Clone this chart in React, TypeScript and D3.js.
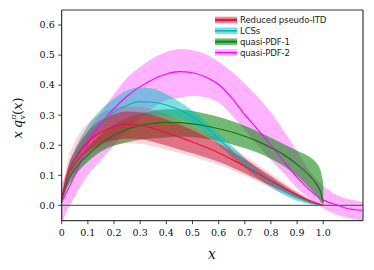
import React from 'react';
import * as d3 from 'd3';

// x grids
const gridA = [0, 0.025, 0.05, 0.1, 0.15, 0.2, 0.25, 0.3, 0.35, 0.4, 0.45, 0.5, 0.55, 0.6, 0.65, 0.7, 0.75, 0.8, 0.85, 0.9, 0.95, 1.0];
const gridGreen = [0, 0.025, 0.05, 0.1, 0.15, 0.2, 0.25, 0.3, 0.35, 0.4, 0.45, 0.5, 0.55, 0.6, 0.65, 0.7, 0.75, 0.8, 0.85, 0.9, 0.95, 0.975, 0.99, 1.0];
const gridMag = [0, 0.025, 0.05, 0.1, 0.15, 0.2, 0.25, 0.3, 0.35, 0.4, 0.45, 0.5, 0.55, 0.6, 0.65, 0.7, 0.75, 0.8, 0.85, 0.9, 0.95, 1.0, 1.05, 1.1, 1.15];

// Reduced pseudo-ITD
const redMid = [0.02, 0.11, 0.155, 0.21, 0.243, 0.262, 0.27, 0.267, 0.256, 0.242, 0.227, 0.211, 0.194, 0.175, 0.153, 0.13, 0.106, 0.081, 0.057, 0.034, 0.014, 0];
const redInHi = [0.03, 0.13, 0.18, 0.245, 0.283, 0.303, 0.312, 0.31, 0.3, 0.286, 0.269, 0.25, 0.229, 0.206, 0.181, 0.154, 0.126, 0.098, 0.069, 0.042, 0.018, 0];
const redInLo = [0.01, 0.09, 0.13, 0.178, 0.204, 0.217, 0.222, 0.221, 0.211, 0.199, 0.186, 0.173, 0.16, 0.145, 0.127, 0.107, 0.086, 0.065, 0.045, 0.026, 0.01, 0];
const redOutHi = [0.04, 0.155, 0.21, 0.272, 0.305, 0.323, 0.33, 0.328, 0.318, 0.302, 0.284, 0.263, 0.241, 0.218, 0.191, 0.164, 0.135, 0.106, 0.076, 0.047, 0.021, 0];
const redOutLo = [0.005, 0.075, 0.115, 0.163, 0.188, 0.201, 0.206, 0.205, 0.197, 0.186, 0.174, 0.162, 0.149, 0.135, 0.118, 0.099, 0.079, 0.058, 0.039, 0.021, 0.007, 0];

// LCSs
const cyanMid = [0.01, 0.11, 0.16, 0.235, 0.28, 0.31, 0.333, 0.345, 0.343, 0.334, 0.318, 0.295, 0.262, 0.222, 0.181, 0.142, 0.107, 0.076, 0.049, 0.026, 0.01, 0];
const cyanHi = [0.02, 0.13, 0.185, 0.265, 0.318, 0.355, 0.382, 0.393, 0.388, 0.37, 0.345, 0.315, 0.28, 0.24, 0.198, 0.158, 0.122, 0.09, 0.062, 0.038, 0.017, 0];
const cyanLo = [0, 0.09, 0.138, 0.207, 0.245, 0.268, 0.285, 0.297, 0.3, 0.297, 0.288, 0.27, 0.24, 0.2, 0.162, 0.124, 0.09, 0.06, 0.035, 0.015, 0.004, 0];

// quasi-PDF-1
const greenMid = [0.02, 0.085, 0.12, 0.168, 0.205, 0.233, 0.253, 0.266, 0.273, 0.276, 0.275, 0.271, 0.264, 0.255, 0.244, 0.23, 0.213, 0.192, 0.168, 0.136, 0.097, 0.07, 0.045, 0.01];
const greenHi = [0.03, 0.11, 0.145, 0.195, 0.237, 0.268, 0.29, 0.305, 0.315, 0.32, 0.319, 0.314, 0.305, 0.294, 0.281, 0.265, 0.246, 0.225, 0.203, 0.182, 0.16, 0.14, 0.115, 0.075];
const greenLo = [0.01, 0.065, 0.098, 0.145, 0.178, 0.198, 0.21, 0.218, 0.223, 0.226, 0.228, 0.227, 0.222, 0.214, 0.203, 0.19, 0.175, 0.155, 0.13, 0.097, 0.055, 0.03, 0.012, 0];

// quasi-PDF-2
const magMid = [0.01, 0.055, 0.1, 0.205, 0.272, 0.322, 0.363, 0.395, 0.42, 0.437, 0.445, 0.441, 0.427, 0.402, 0.358, 0.302, 0.252, 0.2, 0.145, 0.093, 0.05, 0.018, 0.002, -0.012, -0.016];
const magHi = [0.07, 0.12, 0.165, 0.245, 0.31, 0.37, 0.425, 0.46, 0.49, 0.51, 0.52, 0.516, 0.503, 0.478, 0.445, 0.405, 0.36, 0.31, 0.247, 0.18, 0.112, 0.065, 0.035, 0.02, 0.012];
const magLo = [-0.06, -0.01, 0.03, 0.1, 0.15, 0.2, 0.25, 0.29, 0.325, 0.35, 0.358, 0.365, 0.36, 0.342, 0.3, 0.25, 0.2, 0.15, 0.105, 0.058, 0.02, -0.01, -0.03, -0.043, -0.05];

const xTicks = [0, 0.1, 0.2, 0.3, 0.4, 0.5, 0.6, 0.7, 0.8, 0.9, 1.0];
const xTickLabels = ['0', '0.1', '0.2', '0.3', '0.4', '0.5', '0.6', '0.7', '0.8', '0.9', '1.0'];
const yTicks = [0, 0.1, 0.2, 0.3, 0.4, 0.5, 0.6];
const legendLabels = ['Reduced pseudo-ITD', 'LCSs', 'quasi-PDF-1', 'quasi-PDF-2'];

const W = 374, H = 270;
const left = 61.7, right = 363, top = 10, bottom = 220.7;

const App = () => {
  const x = d3.scaleLinear().domain([0, 1.152]).range([left, right]);
  const y = d3.scaleLinear().domain([-0.051, 0.65]).range([bottom, top]);

  const band = (xs, lo, hi) =>
    d3.area<number>()
      .x((_, i) => x(xs[i]))
      .y0((_, i) => y(lo[i]))
      .y1((_, i) => y(hi[i]))
      .curve(d3.curveMonotoneX)(xs) || '';
  const line = (xs, ys) =>
    d3.line<number>()
      .x((_, i) => x(xs[i]))
      .y((_, i) => y(ys[i]))
      .curve(d3.curveMonotoneX)(xs) || '';

  const serif = 'DejaVu Serif, serif';
  const legend = [
    { band: 'rgba(220,20,60,0.5)', line: '#e0163f', lw: 2.2 },
    { band: 'rgba(0,191,191,0.5)', line: '#00b8c4', lw: 1.6 },
    { band: 'rgba(0,128,0,0.55)', line: '#138a13', lw: 2.2 },
    { band: 'rgba(255,0,255,0.3)', line: '#ff00ff', lw: 1.4 },
  ];
  const legendY = [20, 30.8, 41.7, 52.6];

  return (
    <svg width={W} height={H} style={{ position: 'absolute', left: 0, top: 0, background: '#fff' }}>
      <defs>
        <clipPath id="plot">
          <rect x={left} y={top} width={right - left} height={bottom - top} />
        </clipPath>
      </defs>
      <g clipPath="url(#plot)">
        <path d={band(gridMag, magLo, magHi)} fill="#ff00ff" fillOpacity={0.3} />
        <path d={band(gridGreen, greenLo, greenHi)} fill="#008000" fillOpacity={0.55} />
        <path d={band(gridA, cyanLo, cyanHi)} fill="#00bfbf" fillOpacity={0.5} />
        <path d={band(gridA, redOutLo, redOutHi)} fill="#dc143c" fillOpacity={0.18} />
        <path d={band(gridA, redInLo, redInHi)} fill="#c8102e" fillOpacity={0.5} />
        <line x1={left} x2={right} y1={y(0)} y2={y(0)} stroke="#666" strokeWidth={1.3} />
        <path d={line(gridMag, magMid)} fill="none" stroke="#ff00ff" strokeWidth={1.1} />
        <path d={line(gridA, cyanMid)} fill="none" stroke="#00b4c4" strokeWidth={1.2} />
        <path d={line(gridGreen, greenMid)} fill="none" stroke="#107a10" strokeWidth={1.2} />
        <path d={line(gridA, redMid)} fill="none" stroke="#e8143c" strokeWidth={1.2} />
      </g>
      {/* frame */}
      <line x1={left} x2={right} y1={top} y2={top} stroke="#777" strokeWidth={1.5} />
      <line x1={left} x2={left} y1={top} y2={bottom} stroke="#111" strokeWidth={1} />
      <line x1={right} x2={right} y1={top} y2={bottom} stroke="#111" strokeWidth={1} />
      <line x1={left} x2={right} y1={bottom} y2={bottom} stroke="#111" strokeWidth={1} />
      {/* x ticks */}
      {xTicks.map((t, i) => (
        <g key={'x' + i} transform={`translate(${x(t)},${bottom})`}>
          <line y1={0} y2={3.5} stroke="#111" strokeWidth={0.8} />
          <text y={15} textAnchor="middle" fontFamily={serif} fontSize={9.5} fill="#111">{xTickLabels[i]}</text>
        </g>
      ))}
      {/* y ticks */}
      {yTicks.map((t, i) => (
        <g key={'y' + i} transform={`translate(${left},${y(t)})`}>
          <line x1={0} x2={-3.5} stroke="#111" strokeWidth={0.8} />
          <text x={-7} dy="0.35em" textAnchor="end" fontFamily={serif} fontSize={9.5} fill="#111">{t.toFixed(1)}</text>
        </g>
      ))}
      {/* axis labels */}
      <text x={212} y={259} textAnchor="middle" fontFamily={serif} fontStyle="italic" fontSize={14} fill="#111">x</text>
      <text transform="translate(22,118) rotate(-90)" textAnchor="middle" fontFamily={serif} fontSize={13} fill="#111">
        <tspan fontStyle="italic">x</tspan>
        <tspan dx="3" fontStyle="italic">q</tspan>
        <tspan fontSize={8} dy="-6" fontStyle="italic">π</tspan>
        <tspan fontSize={8} dx="-5" dy="9">v</tspan>
        <tspan dy="-3">(</tspan>
        <tspan fontStyle="italic">x</tspan>
        <tspan>)</tspan>
      </text>
      {/* legend */}
      {legendLabels.map((lab, i) => (
        <g key={'l' + i} transform={`translate(215,${legendY[i]})`}>
          <rect x={0} y={-3.3} width={22} height={6.6} fill={legend[i].band} />
          <line x1={0} x2={22} y1={0} y2={0} stroke={legend[i].line} strokeWidth={legend[i].lw} />
          <text x={25} dy="0.35em" fontFamily="DejaVu Sans, sans-serif" fontSize={8.6} fill="#222" letterSpacing={-0.15}>{lab}</text>
        </g>
      ))}
    </svg>
  );
};

export default App;
